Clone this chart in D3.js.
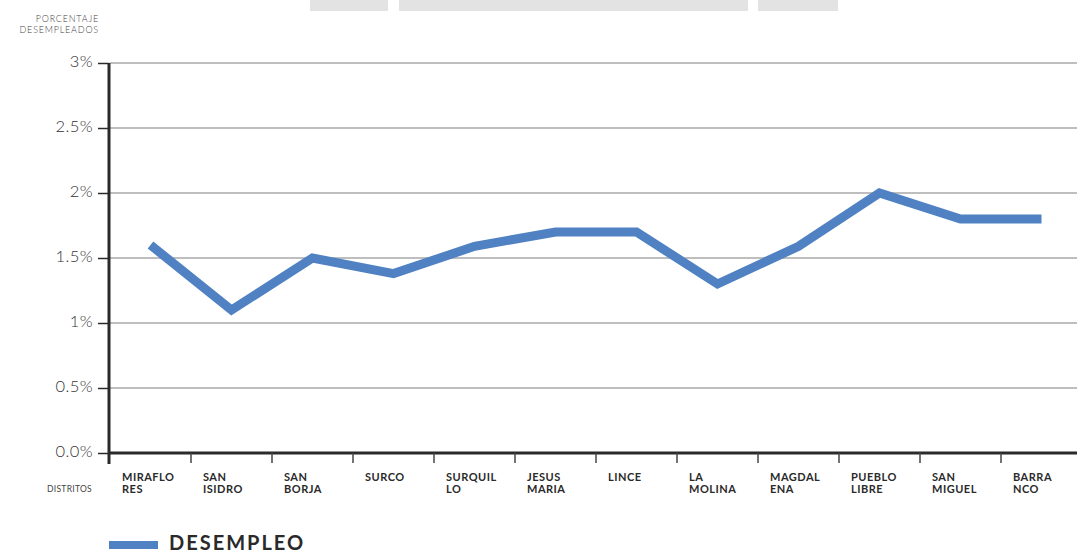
<!DOCTYPE html>
<html>
<head>
<meta charset="utf-8">
<script src="https://cdn.jsdelivr.net/npm/d3@7"></script>
<style>
html,body{margin:0;padding:0;background:#fff;}
svg{display:block;}
text{font-family:Lato,"Open Sans",sans-serif;}
</style>
</head>
<body>
<svg id="chart" width="1077" height="553"></svg>
<script>
const districts = [
  ["MIRAFLO","RES"],["SAN","ISIDRO"],["SAN","BORJA"],["SURCO"],["SURQUIL","LO"],
  ["JESUS","MARIA"],["LINCE"],["LA","MOLINA"],["MAGDAL","ENA"],["PUEBLO","LIBRE"],
  ["SAN","MIGUEL"],["BARRA","NCO"]
];
const desempleo = [1.6, 1.1, 1.5, 1.38, 1.59, 1.7, 1.7, 1.3, 1.59, 2.0, 1.8, 1.8];
const yTicks = [0, 0.5, 1, 1.5, 2, 2.5, 3];
const yTickLabels = ["0.0%", "0.5%", "1%", "1.5%", "2%", "2.5%", "3%"];
const seriesName = "DESEMPLEO";

const svg = d3.select("#chart");
const mLeft = 110, mRight = 1082, mTop = 63, mBottom = 453;

// decorative grey band at top
const deco = [[310,388],[399,748],[758,838]];
svg.selectAll("rect.deco").data(deco).enter().append("rect")
  .attr("x", d => d[0]).attr("y", 0).attr("width", d => d[1]-d[0]).attr("height", 11)
  .attr("fill", "#e3e3e3");

const x = d3.scaleBand().domain(districts.map((d,i)=>i)).range([mLeft, mRight]).padding(0);
const y = d3.scaleLinear().domain([0, 3]).range([mBottom, mTop]);

// gridlines
svg.append("g").selectAll("line").data(yTicks.filter(d=>d>0)).enter().append("line")
  .attr("x1", mLeft).attr("x2", 1077)
  .attr("y1", d => y(d)).attr("y2", d => y(d))
  .attr("stroke", "#a8a8a8").attr("stroke-width", 1.5);

// y axis
const yAxis = d3.axisLeft(y).tickValues(yTicks).tickFormat((d,i)=>yTickLabels[i]).tickSize(11).tickPadding(5);
const gy = svg.append("g").attr("transform", `translate(${mLeft-1},0)`).call(yAxis);
gy.select(".domain").attr("stroke", "#2a2a2a").attr("stroke-width", 3).attr("d", `M0,${mTop}V${mBottom+11}`);
gy.selectAll(".tick line").attr("stroke", "#2a2a2a").attr("stroke-width", 1.5);
gy.selectAll(".tick text").attr("font-size", 16.5).attr("font-weight", 300).attr("fill", "#333")
  .attr("letter-spacing", 0.4).attr("dy", "0.2em")
  .style("font-family", "Lato, sans-serif");

// x axis baseline
svg.append("line").attr("x1", mLeft-1).attr("x2", 1077).attr("y1", mBottom).attr("y2", mBottom)
  .attr("stroke", "#2a2a2a").attr("stroke-width", 3);
// x ticks at band boundaries
svg.append("g").selectAll("line").data(districts.map((d,i)=>i).slice(1)).enter().append("line")
  .attr("x1", d => x(d)).attr("x2", d => x(d))
  .attr("y1", mBottom).attr("y2", mBottom+10)
  .attr("stroke", "#444").attr("stroke-width", 1.5);

// x labels
const lab = svg.append("g").selectAll("text").data(districts).enter().append("text")
  .attr("x", (d,i) => x(i) + 12).attr("y", 481)
  .attr("font-size", 11).attr("font-weight", 700).attr("fill", "#2a2a2a").attr("letter-spacing", 0.5);
lab.selectAll("tspan").data(d => d).enter().append("tspan")
  .attr("x", function(){ return d3.select(this.parentNode).attr("x"); })
  .attr("dy", (d,i) => i === 0 ? 0 : 12).text(d => d);

svg.append("text").attr("x", 92).attr("y", 492).attr("text-anchor", "end")
  .attr("font-size", 8.5).attr("fill", "#444").attr("letter-spacing", 0.3).text("DISTRITOS");

// y title
svg.append("text").attr("x", 99).attr("y", 22).attr("text-anchor", "end")
  .attr("font-size", 9).attr("font-weight", 300).attr("fill", "#444").attr("letter-spacing", 0.8).text("PORCENTAJE");
svg.append("text").attr("x", 99).attr("y", 33).attr("text-anchor", "end")
  .attr("font-size", 9).attr("font-weight", 300).attr("fill", "#444").attr("letter-spacing", 0.8).text("DESEMPLEADOS");

// line
const line = d3.line().x((d,i) => x(i) + x.bandwidth()/2).y(d => y(d));
svg.append("path").datum(desempleo).attr("d", line)
  .attr("fill", "none").attr("stroke", "#4f81c3").attr("stroke-width", 9)
  .attr("stroke-linejoin", "miter").attr("stroke-linecap", "butt");

// legend
svg.append("rect").attr("x", 109).attr("y", 541).attr("width", 49).attr("height", 8).attr("fill", "#4f81c3");
svg.append("text").attr("x", 169).attr("y", 550).attr("font-size", 20).attr("font-weight", 700)
  .attr("fill", "#2a2a2a").attr("letter-spacing", 2).text(seriesName);
</script>
</body>
</html>
